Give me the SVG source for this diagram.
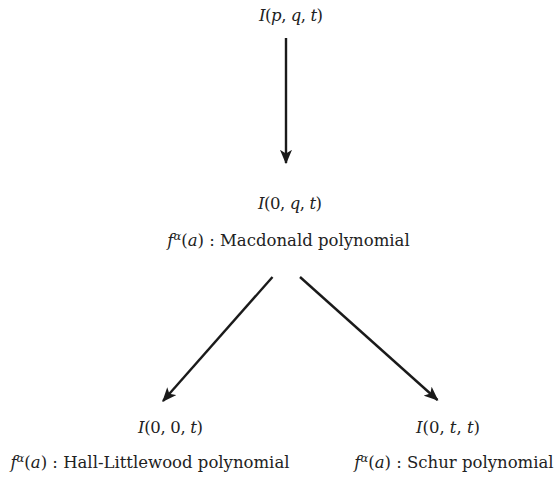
<svg xmlns="http://www.w3.org/2000/svg" width="556" height="477" viewBox="0 0 556 477">
<style>
text{font-family:"DejaVu Serif","Liberation Serif",serif;font-size:16.5px;fill:#222;}
.i{font-style:italic;}
.sup{font-size:11.5px;font-style:italic;}
.edge{stroke:#1a1a1a;stroke-width:2.4;fill:none;}
</style>
<defs>
<marker id="ah" viewBox="0 0 12 10" refX="11" refY="5" markerWidth="6" markerHeight="5" markerUnits="strokeWidth" orient="auto">
<path d="M0,0 L12,5 L0,10 L3,5 Z" fill="#1a1a1a"/>
</marker>
</defs>
<g id="connectors">
<line class="edge" x1="286" y1="38" x2="286" y2="163" marker-end="url(#ah)"/>
<line class="edge" x1="272.5" y1="277" x2="163" y2="401" marker-end="url(#ah)"/>
<line class="edge" x1="300" y1="277" x2="437.5" y2="400" marker-end="url(#ah)"/>
</g>
<g id="n_pqt">
<text x="291" y="21" text-anchor="middle" textLength="64" lengthAdjust="spacing"><tspan class="i">I</tspan>(<tspan class="i">p</tspan>, <tspan class="i">q</tspan>, <tspan class="i">t</tspan>)</text>
</g>
<g id="n_0qt">
<text x="290" y="209" text-anchor="middle" textLength="64" lengthAdjust="spacing"><tspan class="i">I</tspan>(0, <tspan class="i">q</tspan>, <tspan class="i">t</tspan>)</text>
<text x="288.5" y="246" text-anchor="middle"><tspan class="i">f</tspan><tspan class="sup" dy="-6">α</tspan><tspan dy="6">(</tspan><tspan class="i">a</tspan>) : Macdonald polynomial</text>
</g>
<g id="n_00t">
<text x="170.5" y="433" text-anchor="middle" textLength="65" lengthAdjust="spacing"><tspan class="i">I</tspan>(0, 0, <tspan class="i">t</tspan>)</text>
<text x="150" y="468" text-anchor="middle"><tspan class="i">f</tspan><tspan class="sup" dy="-6">α</tspan><tspan dy="6">(</tspan><tspan class="i">a</tspan>) : Hall-Littlewood polynomial</text>
</g>
<g id="n_0tt">
<text x="448" y="433" text-anchor="middle" textLength="64" lengthAdjust="spacing"><tspan class="i">I</tspan>(0, <tspan class="i">t</tspan>, <tspan class="i">t</tspan>)</text>
<text x="454" y="468" text-anchor="middle"><tspan class="i">f</tspan><tspan class="sup" dy="-6">α</tspan><tspan dy="6">(</tspan><tspan class="i">a</tspan>) : Schur polynomial</text>
</g>
</svg>
